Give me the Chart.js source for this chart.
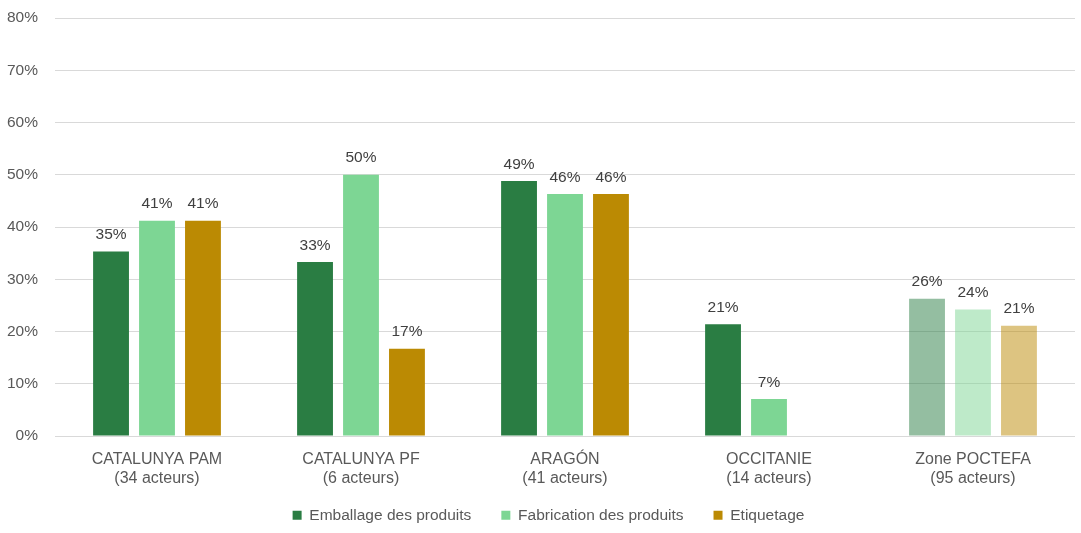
<!DOCTYPE html>
<html>
<head>
<meta charset="utf-8">
<script src="https://cdn.jsdelivr.net/npm/chart.js@4/dist/chart.umd.min.js"></script>
<style>
  body { margin: 0; background: #fff; }
  #wrap { width: 1081px; height: 533px; }
</style>
</head>
<body>
<div id="wrap"><canvas id="chart" width="1081" height="533"></canvas></div>
<script>
// values (share of actors, %)
const categories = [
    ['CATALUNYA PAM', '(34 acteurs)'],
    ['CATALUNYA PF', '(6 acteurs)'],
    ['ARAGÓN', '(41 acteurs)'],
    ['OCCITANIE', '(14 acteurs)'],
    ['Zone POCTEFA', '(95 acteurs)']
];
const emballage = [35.3, 33.3, 48.8, 21.4, 26.3];
const fabrication = [41.2, 50.0, 46.3, 7.1, 24.2];
const etiquetage = [41.2, 16.7, 46.3, 0, 21.1];
const yTicks = [0, 10, 20, 30, 40, 50, 60, 70, 80];

const FONT = '"Liberation Sans", Arial, sans-serif';

// last group is drawn lighter
function colours(solid, light) {
    return categories.map((c, i) => i === categories.length - 1 ? light : solid);
}

const barLabels = {
    id: 'barLabels',
    afterDatasetsDraw(chart) {
        const ctx = chart.ctx;
        ctx.save();
        ctx.font = '15.5px ' + FONT;
        ctx.fillStyle = '#404040';
        ctx.textAlign = 'center';
        ctx.textBaseline = 'bottom';
        chart.data.datasets.forEach((ds, i) => {
            const meta = chart.getDatasetMeta(i);
            meta.data.forEach((bar, j) => {
                const v = ds.data[j];
                if (!v) return;
                ctx.fillText(Math.round(v) + '%', bar.x, bar.y - 9);
            });
        });
        ctx.restore();
    }
};

// pull the legend up closer to the axis labels, and a bit to the right
const legendShift = {
    id: 'legendShift',
    afterLayout(chart) {
        const lg = chart.legend;
        lg.top -= 17; lg.bottom -= 17;
        lg.left += 11; lg.right += 11;
    }
};

const ctx = document.getElementById('chart').getContext('2d');
new Chart(ctx, {
    type: 'bar',
    data: {
        labels: categories,
        datasets: [{
            label: 'Emballage des produits',
            data: emballage,
            backgroundColor: colours('#2a7d43', 'rgba(42,125,67,0.5)')
        }, {
            label: 'Fabrication des produits',
            data: fabrication,
            backgroundColor: colours('#7dd694', 'rgba(125,214,148,0.5)')
        }, {
            label: 'Etiquetage',
            data: etiquetage,
            backgroundColor: colours('#bb8a03', 'rgba(187,138,3,0.5)')
        }]
    },
    options: {
        responsive: false,
        animation: false,
        categoryPercentage: 0.676,
        barPercentage: 0.78,
        layout: { padding: { top: 0, right: 6, left: 0, bottom: -17 } },
        plugins: {
            legend: {
                position: 'bottom',
                labels: {
                    boxWidth: 9,
                    boxHeight: 9,
                    padding: 30,
                    color: '#595959',
                    font: { size: 15.5, family: FONT }
                }
            },
            tooltip: { enabled: false }
        },
        scales: {
            x: {
                grid: { display: false },
                border: { display: false },
                ticks: {
                    color: '#595959',
                    padding: 6,
                    font: { size: 16, family: FONT }
                }
            },
            y: {
                min: 0,
                max: 80,
                afterBuildTicks: axis => { axis.ticks = yTicks.map(v => ({ value: v })); },
                afterFit: axis => { axis.width = 55; },
                grid: { color: '#d9d9d9', lineWidth: 1, drawTicks: true, tickLength: 8.3, tickColor: 'rgba(0,0,0,0)' },
                border: { display: false },
                ticks: {
                    color: '#595959',
                    padding: 8.7,
                    font: { size: 15.5, family: FONT },
                    callback: v => v + '%'
                }
            }
        }
    },
    plugins: [barLabels, legendShift]
});
</script>
</body>
</html>
